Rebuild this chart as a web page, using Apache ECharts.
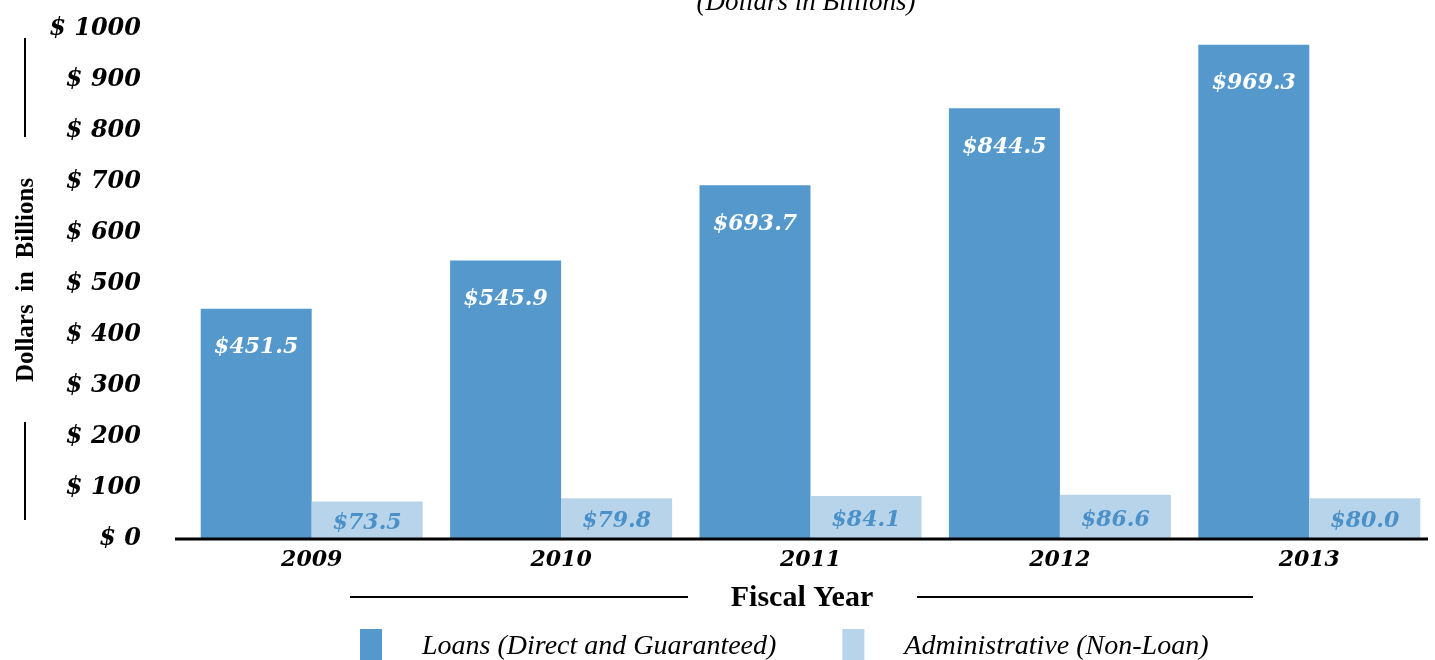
<!DOCTYPE html>
<html><head><meta charset="utf-8">
<script src="https://cdn.jsdelivr.net/npm/echarts@6/dist/echarts.min.js"></script>
<style>html,body{margin:0;padding:0;background:#fff}#c{width:1435px;height:660px}</style>
</head><body><div id="c"></div>
<script>
var categories = ['2009','2010','2011','2012','2013'];
var loans = [451.5, 545.9, 693.7, 844.5, 969.3];
var admin = [73.5, 79.8, 84.1, 86.6, 80.0];
var seriesNames = ['Loans (Direct and Guaranteed)', 'Administrative (Non-Loan)'];
var F = '"Liberation Serif", "DejaVu Serif", serif';
var D = '"DejaVu Serif", serif';
var chart = echarts.init(document.getElementById('c'));
chart.setOption({
  animation: false,
  title: {text: '(Dollars in Billions)', left: 801, top: -16, textAlign: 'center',
    textStyle: {fontFamily: F, fontStyle: 'italic', fontWeight: 'normal', fontSize: 27, color: '#000'}},
  grid: {left: 187, right: 1, top: 29, bottom: 121, containLabel: false},
  legend: {top: 624, left: 355, itemWidth: 22, itemHeight: 35, itemGap: 66, icon: 'rect',
    data: seriesNames,
    textStyle: {fontFamily: F, fontStyle: 'italic', fontSize: 28, color: '#000', padding: [0,0,0,35]}},
  xAxis: {type: 'category', data: categories,
    axisLine: {show: false}, axisTick: {show: false},
    axisLabel: {margin: 10, fontFamily: D, fontStyle: 'italic', fontWeight: 'bold', fontSize: 22, color: '#000'}},
  yAxis: {type: 'value', min: 0, max: 1000, interval: 100,
    splitLine: {show: false}, axisLine: {show: false}, axisTick: {show: false},
    axisLabel: {margin: 46, formatter: function(v){return '$ ' + v;},
      fontFamily: D, fontStyle: 'italic', fontWeight: 'bold', fontSize: 24, color: '#000'}},
  series: [
    {name: seriesNames[0], type: 'bar', data: loans, barGap: '0%', barCategoryGap: '11%',
      itemStyle: {color: '#5498cc'},
      label: {show: true, position: 'insideTop', distance: 28, formatter: function(p){return '$' + p.value.toFixed(1);},
        fontFamily: D, fontStyle: 'italic', fontWeight: 'bold', fontSize: 22, color: '#fff'}},
    {name: seriesNames[1], type: 'bar', data: admin,
      itemStyle: {color: '#b8d4ea'},
      label: {show: true, position: 'inside', offset: [0, 3], formatter: function(p){return '$' + p.value.toFixed(1);},
        fontFamily: D, fontStyle: 'italic', fontWeight: 'bold', fontSize: 22, color: '#4a90c9'}}
  ],
  graphic: [
    {type: 'line', shape: {x1: 175, y1: 539, x2: 1428, y2: 539}, style: {stroke: '#000', lineWidth: 3}, z: 10},
    {type: 'line', shape: {x1: 350, y1: 597, x2: 688, y2: 597}, style: {stroke: '#000', lineWidth: 2}},
    {type: 'line', shape: {x1: 917, y1: 597, x2: 1253, y2: 597}, style: {stroke: '#000', lineWidth: 2}},
    {type: 'text', x: 802, y: 598, style: {text: 'Fiscal Year', font: 'bold 30px ' + F, fill: '#000', align: 'center', verticalAlign: 'middle'}},
    {type: 'line', shape: {x1: 25, y1: 38, x2: 25, y2: 137}, style: {stroke: '#000', lineWidth: 2}},
    {type: 'line', shape: {x1: 25, y1: 422, x2: 25, y2: 520}, style: {stroke: '#000', lineWidth: 2}},
    {type: 'text', x: 27, y: 280, rotation: Math.PI/2,
      style: {text: 'Dollars  in  Billions', font: 'bold 25px ' + F, fill: '#000', align: 'center', verticalAlign: 'middle'}}
  ]
});
</script></body></html>
